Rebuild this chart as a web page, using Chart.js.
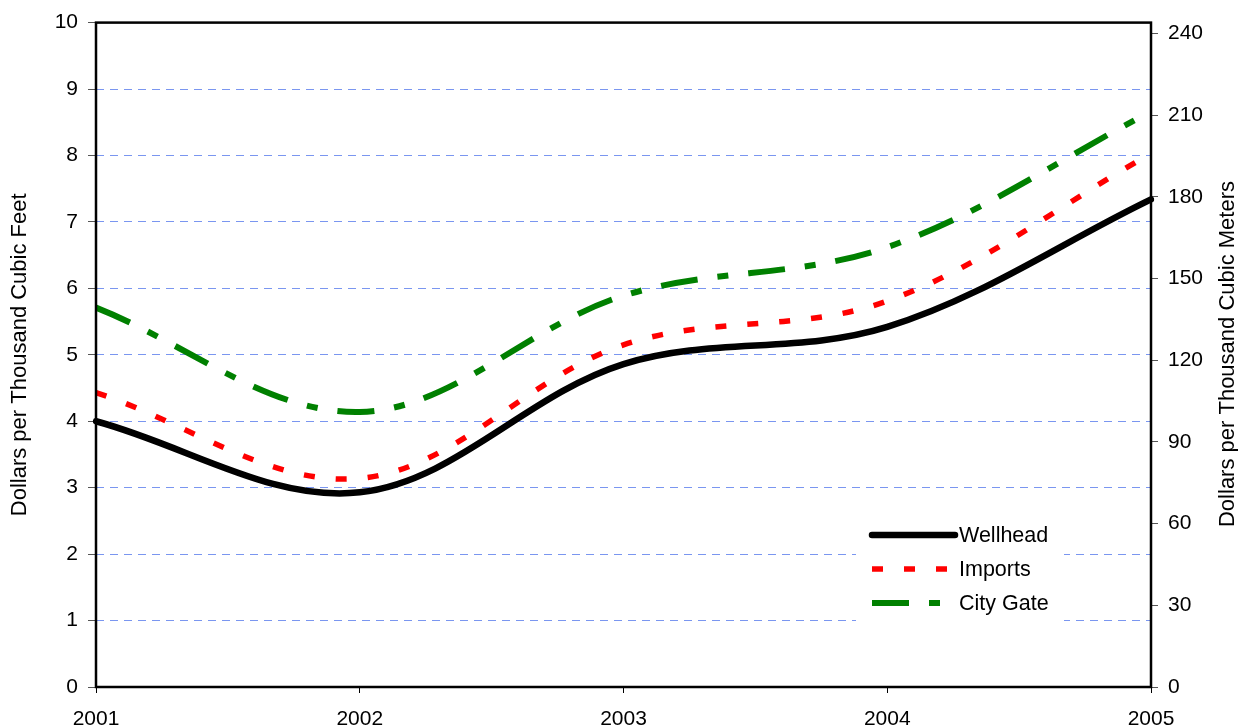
<!DOCTYPE html>
<html>
<head>
<meta charset="utf-8">
<script src="https://cdn.jsdelivr.net/npm/chart.js@4/dist/chart.umd.min.js"></script>
<style>
  html, body { margin: 0; padding: 0; background: #fff; overflow: hidden; }
  #wrap { position: relative; width: 1238px; height: 727px; }
</style>
</head>
<body>
<div id="wrap"><canvas id="priceChart"></canvas></div>
<script>
// annual prices, dollars per thousand cubic feet
const years = ["2001", "2002", "2003", "2004", "2005"];
const wellhead = [4.00, 2.93, 4.86, 5.42, 7.34];
const imports = [4.43, 3.14, 5.15, 5.81, 8.03];
const cityGate = [5.71, 4.14, 5.89, 6.62, 8.66];

// axis ticks
const leftTicks = [0, 1, 2, 3, 4, 5, 6, 7, 8, 9, 10];
const rightTicks = [0, 30, 60, 90, 120, 150, 180, 210, 240];
const rightMax = 244;

const fontFamily = "'Liberation Sans', Arial, sans-serif";
const tickFont = { family: fontFamily, size: 21 };
const gridBlue = "#7a96f0";

Chart.defaults.font.family = fontFamily;
Chart.defaults.color = "#000";

// frame round the plot area
const framePlugin = {
  id: "frame",
  afterDatasetsDraw(chart) {
    const a = chart.chartArea;
    const ctx = chart.ctx;
    ctx.save();
    ctx.strokeStyle = "#000";
    ctx.lineWidth = 2.5;
    ctx.strokeRect(a.left, a.top, a.right - a.left, a.bottom - a.top);
    ctx.restore();
  }
};

// legend box inside the plot + right axis title (reads bottom to top)
const extrasPlugin = {
  id: "extras",
  afterDraw(chart) {
    const ctx = chart.ctx;
    ctx.save();

    ctx.fillStyle = "#fff";
    ctx.fillRect(856, 514, 208, 112);
    const rowY = [535, 569, 603];
    chart.data.datasets.forEach((ds, i) => {
      ctx.beginPath();
      ctx.strokeStyle = ds.borderColor;
      ctx.lineWidth = ds.borderWidth;
      ctx.setLineDash(ds.borderDash || []);
      ctx.lineCap = ds.borderCapStyle || "butt";
      ctx.moveTo(872, rowY[i]);
      ctx.lineTo(955, rowY[i]);
      ctx.stroke();
      ctx.setLineDash([]);
      ctx.fillStyle = "#000";
      ctx.font = "21.5px " + fontFamily;
      ctx.textAlign = "left";
      ctx.textBaseline = "middle";
      ctx.fillText(ds.label, 959, rowY[i] + 1);
    });

    ctx.translate(1228, 354);
    ctx.rotate(-Math.PI / 2);
    ctx.textAlign = "center";
    ctx.textBaseline = "middle";
    ctx.font = "22px " + fontFamily;
    ctx.fillStyle = "#000";
    ctx.fillText("Dollars per Thousand Cubic Meters", 0, 0);
    ctx.restore();
  }
};

const ctx = document.getElementById("priceChart").getContext("2d");
new Chart(ctx, {
  type: "line",
  data: {
    labels: years,
    datasets: [
      {
        label: "Wellhead",
        data: wellhead,
        borderColor: "#000000",
        borderWidth: 6.5,
        borderCapStyle: "round",
        yAxisID: "y"
      },
      {
        label: "Imports",
        data: imports,
        borderColor: "#ff0000",
        borderWidth: 5.5,
        borderDash: [11, 21],
        yAxisID: "y"
      },
      {
        label: "City Gate",
        data: cityGate,
        borderColor: "#008000",
        borderWidth: 6,
        borderDash: [37, 20, 11, 20],
        yAxisID: "y"
      }
    ]
  },
  options: {
    responsive: true,
    maintainAspectRatio: false,
    animation: false,
    layout: { padding: { top: 21, left: 0, right: 0, bottom: 0 } },
    elements: {
      point: { radius: 0, hoverRadius: 0 },
      line: { tension: 0.35, fill: false }
    },
    plugins: {
      legend: { display: false },
      tooltip: { enabled: false }
    },
    scales: {
      x: {
        type: "category",
        offset: false,
        grid: {
          drawOnChartArea: false,
          drawTicks: true,
          tickLength: 6,
          tickColor: "#000",
          tickWidth: 1
        },
        border: { display: false },
        ticks: {
          font: tickFont,
          color: "#000",
          padding: 14,
          maxRotation: 0,
          autoSkip: false
        },
        afterFit: s => { s.height = 40; }
      },
      y: {
        position: "left",
        min: 0,
        max: 10,
        afterBuildTicks: s => { s.ticks = leftTicks.map(v => ({ value: v })); },
        grid: {
          color: c => (c.tick && (c.tick.value === 0 || c.tick.value === 10)) ? "rgba(0,0,0,0)" : gridBlue,
          lineWidth: 1,
          tickLength: 8,
          tickColor: "#555",
          tickWidth: 1,
          tickBorderDash: []
        },
        border: { display: false, dash: [8, 6] },
        ticks: { font: tickFont, color: "#000", padding: 10 },
        title: {
          display: true,
          text: "Dollars per Thousand Cubic Feet",
          font: { family: fontFamily, size: 22 },
          color: "#000",
          padding: { top: 7, bottom: 0 }
        },
        afterFit: s => { s.width = 96; }
      },
      y2: {
        position: "right",
        min: 0,
        max: rightMax,
        afterBuildTicks: s => { s.ticks = rightTicks.map(v => ({ value: v })); },
        grid: {
          drawOnChartArea: false,
          tickLength: 7,
          tickColor: "#555",
          tickWidth: 1,
          tickBorderDash: []
        },
        border: { display: false },
        ticks: { font: tickFont, color: "#000", padding: 10 },
        afterFit: s => { s.width = 87; }
      }
    }
  },
  plugins: [framePlugin, extrasPlugin]
});
</script>
</body>
</html>
